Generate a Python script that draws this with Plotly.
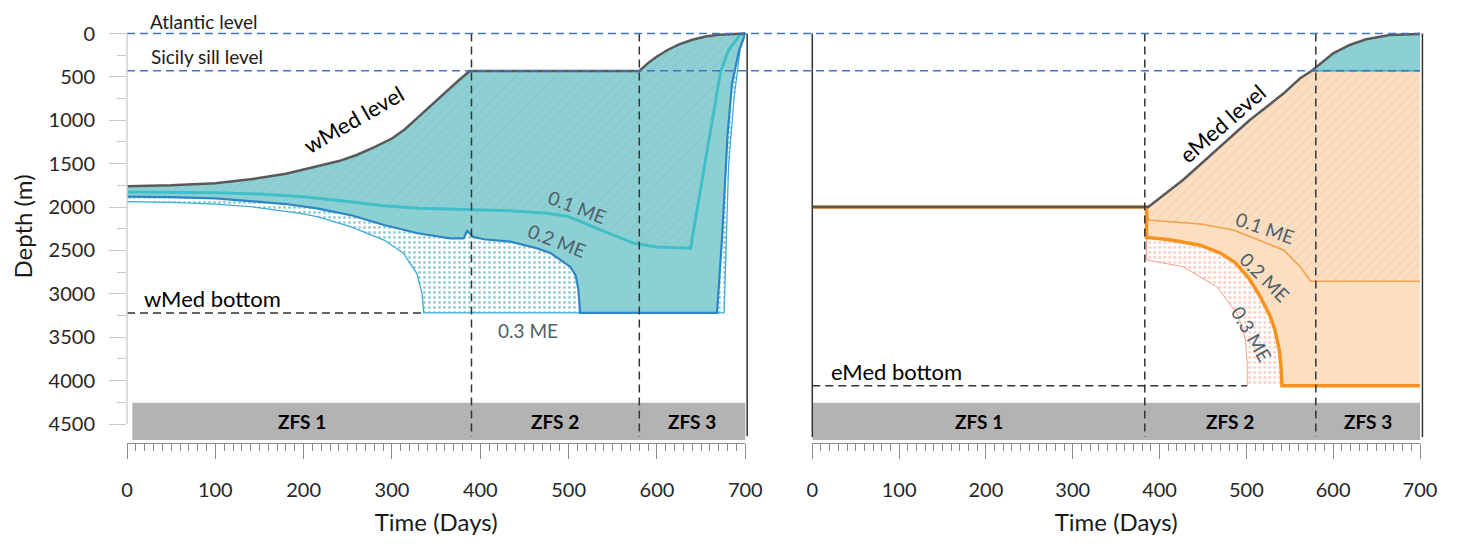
import numpy as np
import plotly.graph_objects as go

# ---------------- data (days, depth in m) ----------------
# western Mediterranean (left panel)
W_LEVEL_DAY = [0, 50, 100, 140, 180, 215, 240, 260, 280, 300, 315, 330, 345, 360, 375, 388,
               580, 590, 600, 612, 625, 640, 655, 670, 685, 700]
W_LEVEL_DEPTH = [1760, 1750, 1726, 1680, 1615, 1535, 1470, 1400, 1310, 1210, 1100, 960, 820, 680, 545, 432,
                 432, 340, 265, 190, 125, 72, 35, 14, 4, 0]

W_01_DAY = [0, 50, 100, 150, 200, 250, 290, 330, 366, 400, 434, 475, 500, 536, 574, 600, 620, 638,
            672, 681, 694, 700]
W_01_DEPTH = [1825, 1828, 1835, 1850, 1880, 1935, 1985, 2015, 2026, 2035, 2042, 2071, 2110, 2264, 2418,
              2460, 2472, 2475, 440, 190, 17, 0]

W_02_DAY = [0, 50, 100, 140, 180, 215, 253, 291, 329, 366, 381, 385, 388, 391, 404, 434, 464, 480,
            491, 502, 508, 511, 513, 668, 674, 680, 685, 693, 700]
W_02_DEPTH = [1880, 1885, 1900, 1930, 1965, 2015, 2092, 2207, 2302, 2360, 2362, 2276, 2300, 2341, 2371,
              2399, 2475, 2533, 2610, 2690, 2790, 2950, 3220, 3220, 2300, 1150, 574, 190, 0]

W_03_DAY = [0, 50, 100, 140, 196, 215, 253, 291, 313, 328, 334, 336, 676, 681, 687, 694, 700]
W_03_DEPTH = [1938, 1945, 1965, 1996, 2072, 2111, 2226, 2380, 2533, 2763, 2994, 3220, 3220, 1535, 766,
              190, 0]

# eastern Mediterranean (right panel)
E_LEVEL_DAY = [0, 385, 387, 427, 466, 504, 543, 562, 575, 600, 619, 638, 665, 696, 700]
E_LEVEL_DEPTH = [2000, 2000, 2000, 1688, 1342, 997, 689, 516, 432, 228, 132, 67, 17, 6, 5]

E_01_DAY = [0, 385, 387, 447, 485, 523, 543, 562, 574, 700]
E_01_DEPTH = [2000, 2000, 2150, 2195, 2264, 2418, 2495, 2687, 2855, 2855]

E_02_DAY = [0, 385, 385, 410, 447, 470, 487, 503, 516, 527, 533, 538, 540, 541, 700]
E_02_DEPTH = [2000, 2000, 2350, 2375, 2440, 2530, 2640, 2820, 3033, 3250, 3417, 3650, 3850, 4060, 4060]

E_03_DAY = [0, 385, 385, 427, 466, 489, 495, 499, 501, 501]
E_03_DEPTH = [2000, 2000, 2610, 2687, 2918, 3225, 3380, 3532, 3800, 4060]

E_SILL_DAY = [575, 700]

ATLANTIC_LEVEL = 0
SICILY_SILL = 430
W_BOTTOM = 3220
E_BOTTOM = 4060
ZFS_W = [6, 390, 580, 700]
ZFS_E = [0, 383, 580, 700]
ZFS_LABELS = ["ZFS 1", "ZFS 2", "ZFS 3"]
BAR_TOP, BAR_BOTTOM = 4255, 4685

Y_TICKS = list(range(0, 4501, 500))
X_TICKS = list(range(0, 701, 100))

# ---------------- styling ----------------
FONT = "Lato, 'Open Sans', sans-serif"
TEAL = "#8dd0d4"
TEAL_LINE = "#40bfc8"
BLUE_LINE = "#2a86c6"
LIGHT_BLUE = "#3aaed6"
ORANGE_FILL = "#fcdec0"
ORANGE_LINE = "#f7a04c"
ORANGE_THICK = "#f7921e"
SALMON = "#f4a08a"
LEVEL_COL = "#595959"
LABEL_COL = "#4f6069"


def poly(x1, y1, x2, y2):
    return list(x1) + list(x2)[::-1], list(y1) + list(y2)[::-1]


fig = go.Figure()


def area(x, y, xa, ya, color, pattern=None):
    fig.add_trace(go.Scatter(x=x, y=y, xaxis=xa, yaxis=ya, mode="lines", fill="toself",
                             fillcolor=color, line=dict(width=0), fillpattern=pattern,
                             hoverinfo="skip", showlegend=False))


def line(x, y, xa, ya, color, width, dash=None):
    fig.add_trace(go.Scatter(x=x, y=y, xaxis=xa, yaxis=ya, mode="lines",
                             line=dict(color=color, width=width, dash=dash),
                             hoverinfo="skip", showlegend=False))


speck_teal = dict(shape="/", bgcolor=TEAL, fgcolor="rgba(110,110,110,0.5)", size=7, solidity=0.1)
speck_orange = dict(shape="/", bgcolor=ORANGE_FILL, fgcolor="rgba(110,110,110,0.45)", size=7, solidity=0.1)
dots_teal = dict(shape=".", bgcolor="white", fgcolor="#2f9eaa", size=5, solidity=0.28)
dots_salmon = dict(shape=".", bgcolor="white", fgcolor="#f39a80", size=5, solidity=0.28)

# ---- left panel fills ----
x, y = poly(W_LEVEL_DAY, W_LEVEL_DEPTH, W_01_DAY, W_01_DEPTH)
area(x, y, "x", "y", TEAL, speck_teal)
x, y = poly(W_01_DAY, W_01_DEPTH, W_02_DAY, W_02_DEPTH)
area(x, y, "x", "y", TEAL)
x, y = poly(W_02_DAY, W_02_DEPTH, W_03_DAY, W_03_DEPTH)
area(x, y, "x", "y", "white", dots_teal)

# wMed bottom dashed
line([0, W_03_DAY[W_03_DEPTH.index(W_BOTTOM)]], [W_BOTTOM, W_BOTTOM], "x", "y", "#333333", 1.5, "8px,5px")

line(W_03_DAY, W_03_DEPTH, "x", "y", LIGHT_BLUE, 1.3)
line(W_01_DAY, W_01_DEPTH, "x", "y", TEAL_LINE, 3)
line(W_02_DAY, W_02_DEPTH, "x", "y", BLUE_LINE, 2.2)
line(W_LEVEL_DAY, W_LEVEL_DEPTH, "x", "y", LEVEL_COL, 2.5)

# ---- right panel fills ----
eld = np.array(E_LEVEL_DAY)
ell = np.array(E_LEVEL_DEPTH)
below = eld <= E_SILL_DAY[0]
above = eld >= E_SILL_DAY[0]
x = list(eld[above]) + E_SILL_DAY[::-1]
y = list(ell[above]) + [SICILY_SILL] * 2
area(x, y, "x2", "y2", TEAL)
top_x = list(eld[below]) + [E_SILL_DAY[-1]]
top_y = list(ell[below]) + [SICILY_SILL]
x, y = poly(top_x, top_y, E_01_DAY, E_01_DEPTH)
area(x, y, "x2", "y2", ORANGE_FILL, speck_orange)
x, y = poly(E_01_DAY, E_01_DEPTH, E_02_DAY, E_02_DEPTH)
area(x, y, "x2", "y2", ORANGE_FILL)
x, y = poly(E_02_DAY, E_02_DEPTH, E_03_DAY, E_03_DEPTH)
area(x, y, "x2", "y2", "white", dots_salmon)

line([0, E_03_DAY[-1]], [E_BOTTOM, E_BOTTOM], "x2", "y2", "#333333", 1.5, "8px,5px")
line(E_SILL_DAY, [SICILY_SILL] * 2, "x2", "y2", TEAL_LINE, 2)
line(E_03_DAY, E_03_DEPTH, "x2", "y2", SALMON, 1)
line(E_01_DAY, E_01_DEPTH, "x2", "y2", ORANGE_LINE, 1.6)
line(E_02_DAY, E_02_DEPTH, "x2", "y2", ORANGE_THICK, 3.5)
line(E_LEVEL_DAY, E_LEVEL_DEPTH, "x2", "y2", LEVEL_COL, 2.5)

# ---------------- shapes ----------------
shapes = []
for xr, bounds in (("x", ZFS_W), ("x2", ZFS_E)):
    yr = "y" if xr == "x" else "y2"
    shapes.append(dict(type="rect", xref=xr, yref=yr, x0=bounds[0], x1=bounds[-1] + 2,
                       y0=BAR_TOP, y1=BAR_BOTTOM, fillcolor="#b3b3b3",
                       line=dict(width=0), layer="below"))
    for b in bounds[1:-1]:
        shapes.append(dict(type="line", xref=xr, yref=yr, x0=b, x1=b, y0=ATLANTIC_LEVEL, y1=4650,
                           line=dict(color="#333333", width=1.5, dash="8px,5px")))
# level dashed lines across both panels
for lev in (ATLANTIC_LEVEL, SICILY_SILL):
    shapes.append(dict(type="line", xref="paper", yref="y", x0=0, x1=1, y0=lev, y1=lev,
                       line=dict(color="#4472c4", width=1.5, dash="8px,5px")))
# axis / frame lines
shapes.append(dict(type="line", xref="x domain", yref="y", x0=0, x1=0, y0=0, y1=4500,
                   line=dict(color="#d0d0d0", width=1.5)))
shapes.append(dict(type="line", xref="x domain", yref="y", x0=1.003, x1=1.003, y0=0, y1=4640,
                   line=dict(color="#333333", width=1.5)))
shapes.append(dict(type="line", xref="x2 domain", yref="y2", x0=0, x1=0, y0=0, y1=4650,
                   line=dict(color="#333333", width=1.5)))
shapes.append(dict(type="line", xref="x2 domain", yref="y2", x0=1.004, x1=1.004, y0=0, y1=4650,
                   line=dict(color="#333333", width=1.5)))

# ---------------- annotations ----------------
ann = []


def text(t, xr, yr, x, y, size=20, color="black", angle=0, xanchor="center", bold=False):
    ann.append(dict(text=("<b>%s</b>" % t) if bold else t, xref=xr, yref=yr, x=x, y=y,
                    showarrow=False, textangle=angle, xanchor=xanchor, yanchor="middle",
                    font=dict(family=FONT, size=size, color=color)))


text("Atlantic level", "x", "y", 24, -140, 19, "#1a1a1a", xanchor="left")
text("Sicily sill level", "x", "y", 25, 268, 19, "#1a1a1a", xanchor="left")
text("wMed bottom", "x", "y", 17, 3050, 22, "black", xanchor="left")
text("eMed bottom", "x2", "y2", 19, 3890, 22, "black", xanchor="left")
text("wMed level", "x", "y", 256, 990, 22, "black", angle=-30)
text("eMed level", "x2", "y2", 472, 1040, 22, "black", angle=-41)
text("0.1 ME", "x", "y", 509, 1999, 19, LABEL_COL, angle=21)
text("0.2 ME", "x", "y", 487, 2380, 19, LABEL_COL, angle=21)
text("0.3 ME", "x", "y", 454, 3428, 19, LABEL_COL)
text("0.1 ME", "x2", "y2", 521, 2241, 19, LABEL_COL, angle=19)
text("0.2 ME", "x2", "y2", 522, 2806, 19, LABEL_COL, angle=45)
text("0.3 ME", "x2", "y2", 507, 3463, 19, LABEL_COL, angle=60)
for xr, yr, bounds in (("x", "y", ZFS_W), ("x2", "y2", ZFS_E)):
    for i, lab in enumerate(ZFS_LABELS):
        text(lab, xr, yr, (bounds[i] + bounds[i + 1]) / 2, (BAR_TOP + BAR_BOTTOM) / 2, 19,
             "black", bold=True)

# ---------------- axes ----------------
Y_RANGE = [4719, -271]
xcommon = dict(range=[0, 700], tickvals=X_TICKS, showline=True, linecolor="#8c8c8c", linewidth=1.2,
               ticks="outside", ticklen=15, tickwidth=1.2, tickcolor="#8c8c8c",
               minor=dict(ticks="outside", ticklen=7, dtick=10, tick0=0, tickcolor="#8c8c8c",
                          tickwidth=1),
               showgrid=False, zeroline=False, tickfont=dict(family=FONT, size=20, color="#262626"),
               ticklabelstandoff=14,
               title=dict(text="Time (Days)", font=dict(family=FONT, size=24, color="#1a1a1a"),
                          standoff=14),
               fixedrange=True)

# the page body adds an 8 px offset, so the figure is sized/margined to compensate
fig.update_layout(
    width=1441, height=528,
    margin=dict(l=119, r=29, t=2, b=93, autoexpand=False),
    paper_bgcolor="white", plot_bgcolor="white",
    showlegend=False,
    shapes=shapes, annotations=ann,
    xaxis=dict(domain=[0, 0.4782], anchor="y", **xcommon),
    xaxis2=dict(domain=[0.53, 1], anchor="y2", **xcommon),
    yaxis=dict(domain=[0, 1], range=Y_RANGE, anchor="x", tickvals=Y_TICKS, showline=False,
               ticks="outside", ticklen=17, tickcolor="#c8c8c8", tickwidth=1.2,
               minor=dict(ticks="outside", ticklen=9, tickvals=list(range(250, 4500, 500)),
                          tickcolor="#c8c8c8", tickwidth=1.2),
               showgrid=False, zeroline=False,
               tickfont=dict(family=FONT, size=20, color="#262626"), ticklabelstandoff=10,
               title=dict(text="Depth (m)", font=dict(family=FONT, size=24, color="#1a1a1a"),
                          standoff=10),
               fixedrange=True),
    yaxis2=dict(domain=[0, 1], range=Y_RANGE, anchor="x2", showline=False, showticklabels=False,
                ticks="", showgrid=False, zeroline=False, fixedrange=True),
)

fig.write_html("out.html")
